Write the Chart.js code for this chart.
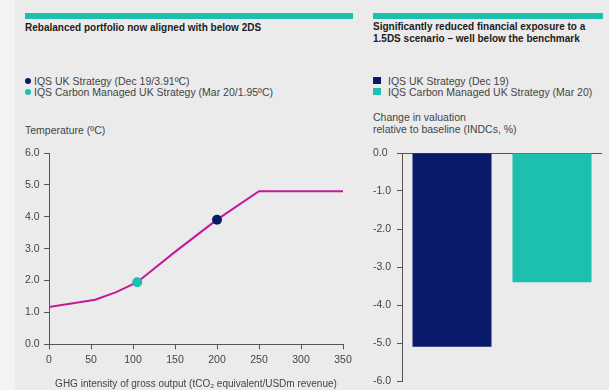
<!DOCTYPE html>
<html>
<head>
<meta charset="utf-8">
<script src="https://cdn.jsdelivr.net/npm/chart.js@4.4.1/dist/chart.umd.min.js"></script>
<style>
  body { margin: 0; width: 609px; height: 390px; background: #f4f4f4; position: relative; overflow: hidden;
         font-family: "Liberation Sans", Arial, sans-serif; color: #444; }
  #panel { position: absolute; left: 15px; top: 0; width: 594px; height: 390px; background: #ebebeb; }
  .bar { position: absolute; height: 6px; background: #1dbfae; top: 13px; }
  .title { position: absolute; font-weight: bold; font-size: 10px; color: #1c1c1c; line-height: 12px; }
  .txt { position: absolute; font-size: 10.5px; line-height: 12px; color: #444; white-space: nowrap; }
  .dot { position: absolute; width: 6px; height: 6px; border-radius: 50%; }
  .sq { position: absolute; width: 8px; height: 7px; }
  canvas { position: absolute; }
</style>
</head>
<body>
<div id="panel"></div>

<div class="bar" style="left:25px; width:328px;"></div>
<div class="title" style="left:25px; top:22px;">Rebalanced portfolio now aligned with below 2DS</div>
<div class="dot" style="left:25px; top:78px; background:#0a1a6b;"></div>
<div class="txt" style="left:34px; top:75px;">IQS UK Strategy (Dec 19/3.91ºC)</div>
<div class="dot" style="left:25px; top:89px; background:#1dbfae;"></div>
<div class="txt" style="left:34px; top:86px;">IQS Carbon Managed UK Strategy (Mar 20/1.95ºC)</div>
<div class="txt" style="left:25px; top:124px;">Temperature (ºC)</div>

<div class="bar" style="left:373px; width:230px;"></div>
<div class="title" style="left:373px; top:21px;">Significantly reduced financial exposure to a<br>1.5DS scenario – well below the benchmark</div>
<div class="sq" style="left:373px; top:77px; background:#0a1a6b;"></div>
<div class="txt" style="left:388px; top:75px;">IQS UK Strategy (Dec 19)</div>
<div class="sq" style="left:373px; top:88px; background:#1dbfae;"></div>
<div class="txt" style="left:388px; top:86px;">IQS Carbon Managed UK Strategy (Mar 20)</div>
<div class="txt" style="left:373px; top:111px;">Change in valuation<br>relative to baseline (INDCs, %)</div>

<canvas id="lineChart" style="left:15px; top:140px;" width="345" height="250"></canvas>
<canvas id="barChart" style="left:360px; top:140px;" width="249" height="250"></canvas>

<script>
// temperature pathway vs GHG intensity
var pathX = [0, 55, 80, 105, 150, 200, 250, 350];
var pathY = [1.17, 1.4, 1.64, 1.95, 2.9, 3.91, 4.8, 4.8];
var ukStrategy = { x: 200, y: 3.91 };
var carbonManaged = { x: 105, y: 1.95 };

// valuation change (%)
var barLabels = ["IQS UK Strategy (Dec 19)", "IQS Carbon Managed UK Strategy (Mar 20)"];
var barValues = [-5.1, -3.4];

var navy = "#0a1a6b";
var teal = "#1dbfae";
var magenta = "#c4199a";
var axisGrey = "#555";
var tickFont = { family: "'Liberation Sans', Arial, sans-serif", size: 10.5 };

Chart.defaults.color = "#444";
Chart.defaults.animation = false;

var pathData = [];
for (var i in pathX) {
	pathData.push({ x: pathX[i], y: pathY[i] });
}

new Chart(document.getElementById("lineChart"), {
	type: "scatter",
	data: {
		datasets: [
			{ data: [ukStrategy], backgroundColor: navy, pointRadius: 5, pointBorderWidth: 0 },
			{ data: [carbonManaged], backgroundColor: teal, pointRadius: 5, pointBorderWidth: 0 },
			{ data: pathData, showLine: true, borderColor: magenta, borderWidth: 2, pointRadius: 0, tension: 0 }
		]
	},
	options: {
		responsive: false,
		layout: { padding: { left: 10, right: 17, top: 13, bottom: 0 } },
		plugins: { legend: { display: false }, tooltip: { enabled: false } },
		scales: {
			x: {
				type: "linear", min: 0, max: 350,
				ticks: { stepSize: 50, font: tickFont, color: "#444", padding: 4 },
				grid: { drawOnChartArea: false, tickLength: 5, color: axisGrey },
				border: { color: axisGrey },
				title: { display: true, text: "GHG intensity of gross output (tCO₂ equivalent/USDm revenue)",
					font: { family: "'Liberation Sans', Arial, sans-serif", size: 10 }, color: "#444", padding: { top: 8, bottom: 0 } }
			},
			y: {
				min: 0, max: 6,
				afterFit: function (scale) { scale.width = 24; },
				ticks: { stepSize: 1, crossAlign: "far", font: tickFont, color: "#444", padding: 2,
					callback: function (v) { return v.toFixed(1); } },
				grid: { drawOnChartArea: false, tickLength: 5, color: axisGrey },
				border: { color: axisGrey }
			}
		}
	}
});

new Chart(document.getElementById("barChart"), {
	type: "bar",
	data: {
		labels: barLabels,
		datasets: [{
			data: barValues,
			backgroundColor: [navy, teal],
			barPercentage: 0.79,
			categoryPercentage: 1
		}]
	},
	options: {
		responsive: false,
		layout: { padding: { left: 13, right: 7, top: 13, bottom: 9 } },
		plugins: { legend: { display: false }, tooltip: { enabled: false } },
		scales: {
			x: { display: false },
			y: {
				min: -6, max: 0,
				afterFit: function (scale) { scale.width = 29; },
				ticks: { stepSize: 1, crossAlign: "far", font: tickFont, color: "#444", padding: 2,
					callback: function (v) { return v.toFixed(1); } },
				grid: {
					tickLength: 5,
					color: function (ctx) { return ctx.tick && ctx.tick.value === 0 ? axisGrey : "transparent"; },
					tickColor: axisGrey
				},
				border: { color: axisGrey }
			}
		}
	}
});
</script>
</body>
</html>
